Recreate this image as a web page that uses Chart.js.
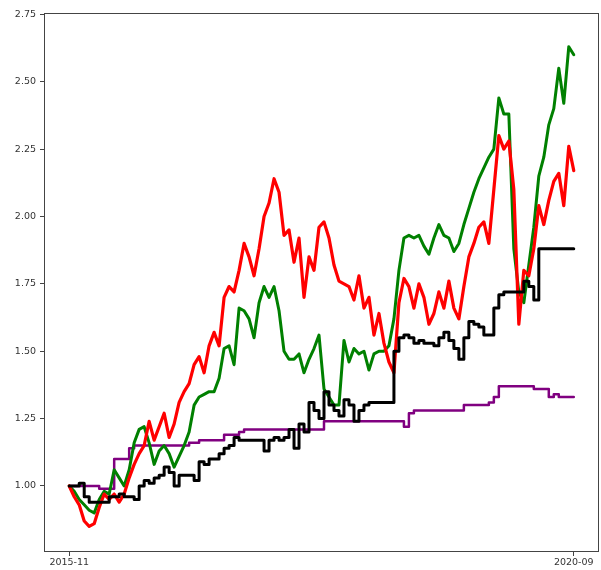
<!DOCTYPE html>
<html>
<head>
<meta charset="utf-8">
<script src="https://cdn.jsdelivr.net/npm/chart.js@4"></script>
<style>
  body { margin: 0; background: #fff; }
</style>
</head>
<body>
<canvas id="perf" width="601" height="570"></canvas>
<script>
// cumulative value, sampled evenly from 2015-11 to 2020-09
const xTickLabels = ['2015-11', '2020-09'];
const yTickValues = [1.00, 1.25, 1.50, 1.75, 2.00, 2.25, 2.50, 2.75];

const redLine = [1.00,0.96,0.93,0.87,0.85,0.86,0.92,0.97,0.95,0.97,
  0.94,0.97,1.03,1.08,1.12,1.15,1.24,1.17,1.22,1.27,
  1.18,1.23,1.31,1.35,1.38,1.45,1.48,1.42,1.52,1.57,
  1.52,1.70,1.74,1.72,1.80,1.90,1.85,1.78,1.88,2.00,
  2.05,2.14,2.09,1.93,1.95,1.83,1.92,1.70,1.85,1.80,
  1.96,1.98,1.92,1.82,1.76,1.75,1.74,1.69,1.78,1.66,
  1.70,1.56,1.64,1.53,1.46,1.42,1.68,1.77,1.74,1.66,
  1.75,1.70,1.60,1.64,1.72,1.66,1.76,1.66,1.62,1.74,
  1.85,1.90,1.96,1.98,1.90,2.10,2.30,2.25,2.28,2.10,
  1.60,1.80,1.78,1.88,2.04,1.97,2.06,2.13,2.16,2.04,
  2.26,2.17];

const greenLine = [1.00,0.98,0.95,0.93,0.91,0.90,0.95,0.98,0.97,1.06,
  1.03,1.00,1.06,1.16,1.21,1.22,1.16,1.08,1.13,1.15,
  1.12,1.07,1.11,1.15,1.20,1.30,1.33,1.34,1.35,1.35,
  1.40,1.51,1.52,1.45,1.66,1.65,1.62,1.55,1.68,1.74,
  1.70,1.74,1.65,1.50,1.47,1.47,1.49,1.42,1.47,1.51,
  1.56,1.36,1.33,1.30,1.30,1.54,1.46,1.51,1.49,1.50,
  1.43,1.49,1.50,1.50,1.52,1.62,1.80,1.92,1.93,1.92,
  1.93,1.89,1.86,1.92,1.97,1.93,1.92,1.87,1.90,1.97,
  2.03,2.09,2.14,2.18,2.22,2.25,2.44,2.38,2.38,1.88,
  1.72,1.68,1.82,1.96,2.15,2.22,2.34,2.40,2.55,2.42,
  2.63,2.60];

const blackLine = [1.00,1.00,1.01,0.96,0.94,0.94,0.94,0.94,0.96,0.96,
  0.97,0.96,0.96,0.95,1.00,1.02,1.01,1.03,1.04,1.07,
  1.05,1.00,1.04,1.04,1.04,1.02,1.09,1.08,1.10,1.10,
  1.12,1.14,1.15,1.18,1.17,1.17,1.17,1.17,1.17,1.13,
  1.17,1.18,1.17,1.18,1.21,1.14,1.23,1.20,1.31,1.28,
  1.25,1.35,1.30,1.28,1.26,1.32,1.30,1.24,1.28,1.30,
  1.31,1.31,1.31,1.31,1.31,1.50,1.55,1.56,1.55,1.53,
  1.54,1.53,1.53,1.52,1.55,1.57,1.54,1.51,1.47,1.55,
  1.61,1.60,1.59,1.56,1.56,1.66,1.71,1.72,1.72,1.72,
  1.72,1.76,1.74,1.69,1.88,1.88,1.88,1.88,1.88,1.88,
  1.88,1.88];

const purpleLine = [1.00,1.00,1.00,1.00,1.00,1.00,0.99,0.99,0.99,1.10,
  1.10,1.10,1.14,1.15,1.15,1.15,1.15,1.15,1.15,1.15,
  1.15,1.15,1.15,1.15,1.16,1.16,1.17,1.17,1.17,1.17,
  1.17,1.19,1.19,1.19,1.20,1.21,1.21,1.21,1.21,1.21,
  1.21,1.21,1.21,1.21,1.21,1.21,1.21,1.21,1.21,1.21,
  1.21,1.24,1.24,1.24,1.24,1.24,1.24,1.24,1.24,1.24,
  1.24,1.24,1.24,1.24,1.24,1.24,1.24,1.22,1.27,1.28,
  1.28,1.28,1.28,1.28,1.28,1.28,1.28,1.28,1.28,1.30,
  1.30,1.30,1.30,1.30,1.31,1.33,1.37,1.37,1.37,1.37,
  1.37,1.37,1.37,1.36,1.36,1.36,1.33,1.34,1.33,1.33,
  1.33,1.33];

const last = redLine.length - 1;
const toPoints = arr => arr.map((v, i) => ({ x: i, y: v }));

// matplotlib-like frame around the plot area
const frame = {
  id: 'frame',
  afterDatasetsDraw(chart) {
    const { ctx, chartArea: a } = chart;
    ctx.save();
    ctx.strokeStyle = '#444';
    ctx.lineWidth = 1;
    ctx.strokeRect(a.left + 0.5, a.top + 0.5, a.right - a.left - 1, a.bottom - a.top - 1);
    ctx.restore();
  }
};

const tickFont = { family: 'DejaVu Sans', size: 9.5 };

new Chart(document.getElementById('perf'), {
  type: 'line',
  data: {
    datasets: [
      { data: toPoints(blackLine), borderColor: '#000000', borderWidth: 3, stepped: 'before', order: 1 },
      { data: toPoints(redLine), borderColor: '#ff0000', borderWidth: 3.2, order: 2 },
      { data: toPoints(greenLine), borderColor: '#008000', borderWidth: 3, order: 3 },
      { data: toPoints(purpleLine), borderColor: '#800080', borderWidth: 2.5, stepped: 'before', order: 4 }
    ]
  },
  options: {
    responsive: false,
    animation: false,
    layout: { padding: { top: 13, right: 2, left: 0, bottom: 0 } },
    elements: {
      point: { radius: 0 },
      line: { tension: 0, borderJoinStyle: 'round', borderCapStyle: 'round' }
    },
    plugins: { legend: { display: false }, tooltip: { enabled: false } },
    scales: {
      x: {
        type: 'linear',
        min: -0.05 * last,
        max: last * 1.05,
        afterBuildTicks: s => { s.ticks = [{ value: 0 }, { value: last }]; },
        afterFit: s => { s.height = 18; },
        ticks: {
          font: tickFont, color: '#333', padding: 1, maxRotation: 0,
          callback: v => v === 0 ? xTickLabels[0] : xTickLabels[1]
        },
        grid: { drawOnChartArea: false, tickLength: 4, color: '#444' },
        border: { display: false }
      },
      y: {
        min: 0.755,
        max: 2.755,
        afterBuildTicks: s => { s.ticks = yTickValues.map(v => ({ value: v })); },
        afterFit: s => { s.width = 44; },
        ticks: {
          font: tickFont, color: '#333', padding: 4,
          callback: v => v.toFixed(2)
        },
        grid: { drawOnChartArea: false, tickLength: 4, color: '#444' },
        border: { display: false }
      }
    }
  },
  plugins: [frame]
});
</script>
</body>
</html>
